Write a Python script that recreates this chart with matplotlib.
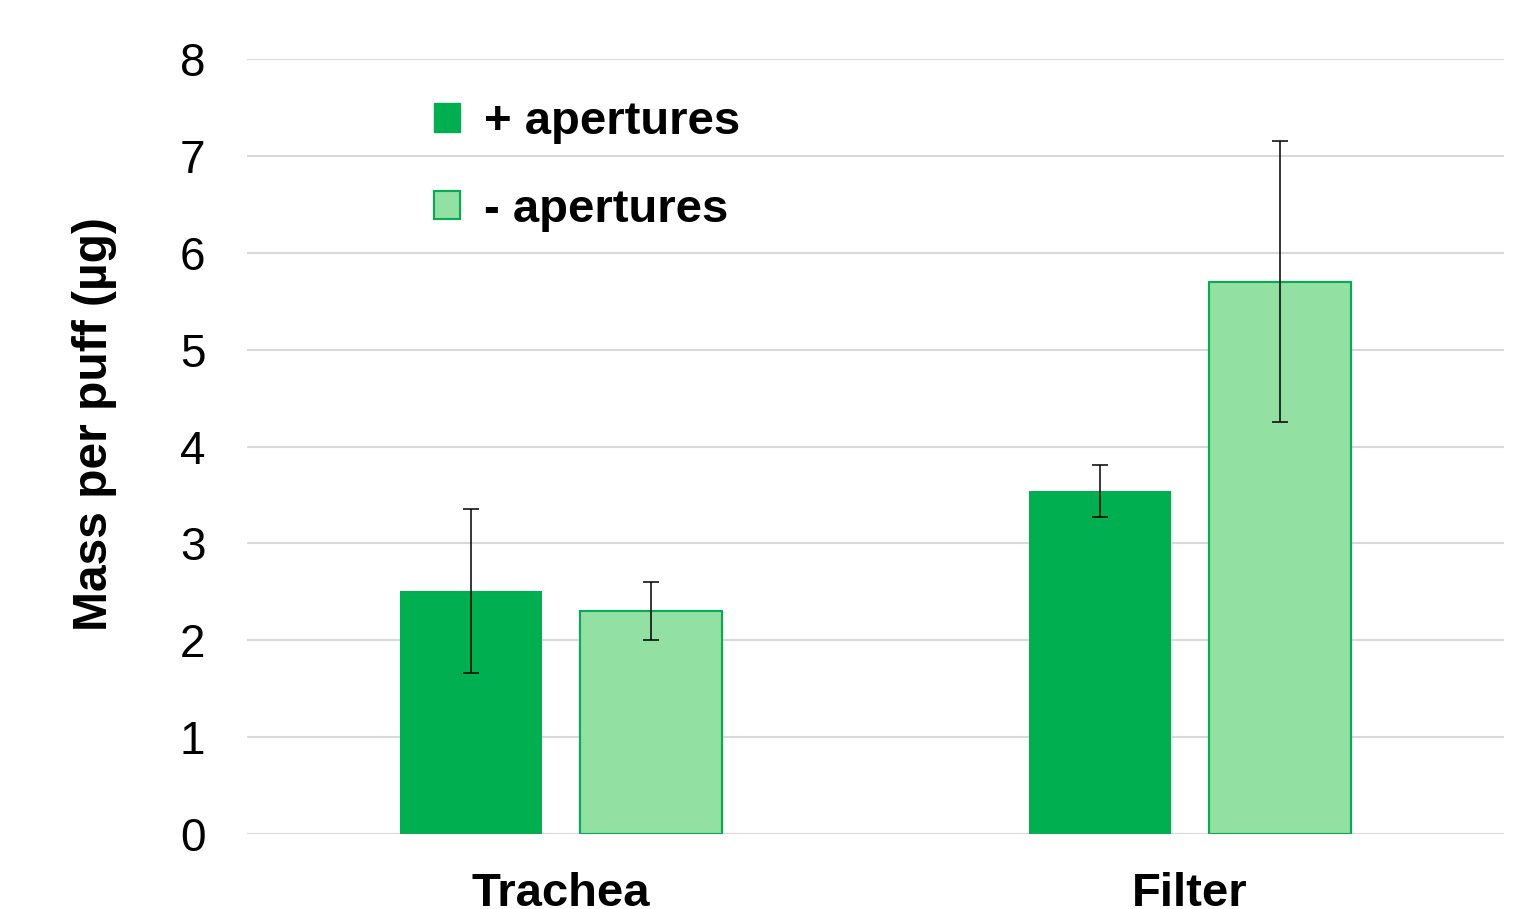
import matplotlib
matplotlib.use("Agg")
import matplotlib.pyplot as plt
from matplotlib.patches import Patch
import numpy as np

categories = ["Trachea", "Filter"]
series_labels = ["+ apertures", "- apertures"]
with_apertures = [2.51, 3.54]
with_apertures_err = [0.85, 0.27]
without_apertures = [2.30, 5.70]
without_apertures_err = [0.30, 1.45]
y_ticks = [0, 1, 2, 3, 4, 5, 6, 7, 8]

plt.rcParams["font.family"] = ["Liberation Sans", "DejaVu Sans"]

dark = "#00B050"
light = "#92E0A2"
grid_col = "#D9D9D9"

fig = plt.figure(figsize=(15.29, 9.09), dpi=100)
ax = fig.add_axes([247 / 1529, 75 / 909, (1504 - 247) / 1529, (834 - 59) / 909])

x = np.arange(len(categories))
w = 0.226
off = 0.143

err_kw = dict(ecolor="black", elinewidth=1.1, capsize=5.5, capthick=1.1)
ax.bar(x - off, with_apertures, w, color=dark, edgecolor=dark, linewidth=0,
       yerr=with_apertures_err, error_kw=err_kw, zorder=3)
ax.bar(x + off, without_apertures, w, color=light, edgecolor=dark, linewidth=1.5,
       yerr=without_apertures_err, error_kw=err_kw, zorder=3)

ax.set_xlim(-0.5, 1.5)
ax.set_ylim(0, 8)
ax.set_yticks(y_ticks)
ax.set_yticklabels([str(t) for t in y_ticks])
ax.set_xticks(x)
ax.set_xticklabels(categories, fontweight="bold")
ax.tick_params(axis="y", length=0, pad=30, labelsize=33)
ax.tick_params(axis="x", length=0, pad=27, labelsize=34)
ax.yaxis.grid(True, color=grid_col, linewidth=1.5, zorder=0)
ax.set_axisbelow(True)
for s in ax.spines.values():
    s.set_visible(False)

ax.set_ylabel("Mass per puff (µg)", fontsize=34.5, fontweight="bold")
ax.yaxis.set_label_coords((117 - 247) / 1257, (834 - 424) / 775)

handles = [Patch(facecolor=dark, edgecolor=dark, linewidth=1.0),
           Patch(facecolor=light, edgecolor=dark, linewidth=1.5)]
ax.legend(handles, series_labels, loc="upper left",
          bbox_to_anchor=((434 - 247) / 1257, (834 - 100) / 775),
          frameon=False, prop={"size": 34, "weight": "bold"},
          handlelength=0.55, handleheight=0.55, handletextpad=0.51,
          labelspacing=0.93, borderpad=0, borderaxespad=0)

fig.savefig("out.png", dpi=100)
